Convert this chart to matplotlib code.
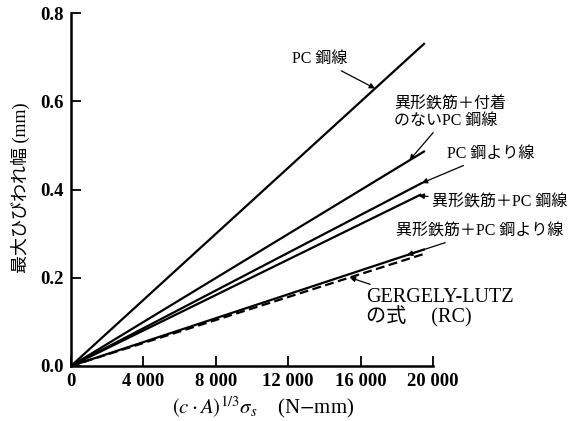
import matplotlib
matplotlib.use("Agg")
import matplotlib.pyplot as plt
import matplotlib.ticker as mticker

plt.rcParams["mathtext.fontset"] = "stix"

JP = ["Liberation Serif", "Noto Sans CJK JP"]

# ── data: straight-line relations, each from origin to its end point ─────────
x_end = [19500, 19500, 19400, 19300, 19500, 19500]
y_end = [0.730, 0.486, 0.415, 0.388, 0.264, 0.254]
names = ["PC鋼線", "異形鉄筋+付着のないPC鋼線", "PC鋼より線",
         "異形鉄筋+PC鋼線", "異形鉄筋+PC鋼より線", "GERGELY-LUTZ"]
styles = ["-", "-", "-", "-", "-", "--"]

x_ticks = [0, 4000, 8000, 12000, 16000, 20000]
y_ticks = [0.0, 0.2, 0.4, 0.6, 0.8]

# label text, label anchor (x, y), arrow tip x, line index, size
labels = [
    ("PC 鋼線",                      (15250, 0.695), 16800, 0, 11.5),
    ("異形鉄筋＋付着\nのないPC 鋼線",  (17850, 0.574), 18700, 1, 11.5),
    ("PC 鋼より線",                  (20750, 0.480), 19380, 2, 11.5),
    ("異形鉄筋＋PC 鋼線",             (19950, 0.370), 19200, 3, 11.5),
    ("異形鉄筋＋PC 鋼より線",          (17950, 0.305), 18560, 4, 11.5),
    ("GERGELY-LUTZ\nの式     (RC)",  (16300, 0.132), 15400, 5, 14.5),
]

fig = plt.figure(figsize=(5.74, 4.21), dpi=100)
ax = fig.add_axes([71 / 574, 55 / 421, 362 / 574, 353 / 421])

for xe, ye, ls in zip(x_end, y_end, styles):
    if ls == "--":
        ax.plot([0, xe], [0, ye], color="black", lw=1.6, ls=(0, (4, 2)))
    else:
        ax.plot([0, xe], [0, ye], color="black", lw=1.6)

for text, (tx, ty), tip_x, i, fs in labels:
    tip_y = y_end[i] / x_end[i] * tip_x
    ha = "right" if i == 0 else "left"
    ax.annotate(text, xy=(tip_x, tip_y), xytext=(tx, ty),
                ha=ha, va="center", fontsize=fs, family=JP,
                linespacing=1.0, annotation_clip=False,
                arrowprops=dict(arrowstyle="-|>", color="black", lw=0.9,
                                mutation_scale=8, shrinkA=1, shrinkB=0))

ax.set_xlim(0, 20000)
ax.set_ylim(0, 0.8)
ax.set_xticks(x_ticks)
ax.set_yticks(y_ticks)
ax.xaxis.set_major_formatter(
    mticker.FuncFormatter(lambda v, _: f"{int(v):,}".replace(",", " ")))
ax.yaxis.set_major_formatter(mticker.FuncFormatter(lambda v, _: f"{v:.1f}"))
ax.tick_params(direction="in", length=7, width=1.3, pad=5)
for lab in ax.get_xticklabels() + ax.get_yticklabels():
    lab.set_family("Liberation Serif")
    lab.set_fontweight("bold")
    lab.set_fontsize(13.5)

for side in ("top", "right"):
    ax.spines[side].set_visible(False)
for side in ("left", "bottom"):
    ax.spines[side].set_linewidth(1.8)

fig.text(263 / 574, 1 - 407 / 421,
         r"$(c\cdot\mathbf{\mathit{A}})^{1/3}\sigma_s$    (N$-$mm)",
         ha="center", va="center", fontsize=15, family="Liberation Serif")
fig.text(20 / 574, 1 - 188 / 421, "最大ひびわれ幅 (mm)", rotation=90,
         ha="center", va="center", fontsize=13, family=JP)

fig.savefig("out.png", dpi=100)
